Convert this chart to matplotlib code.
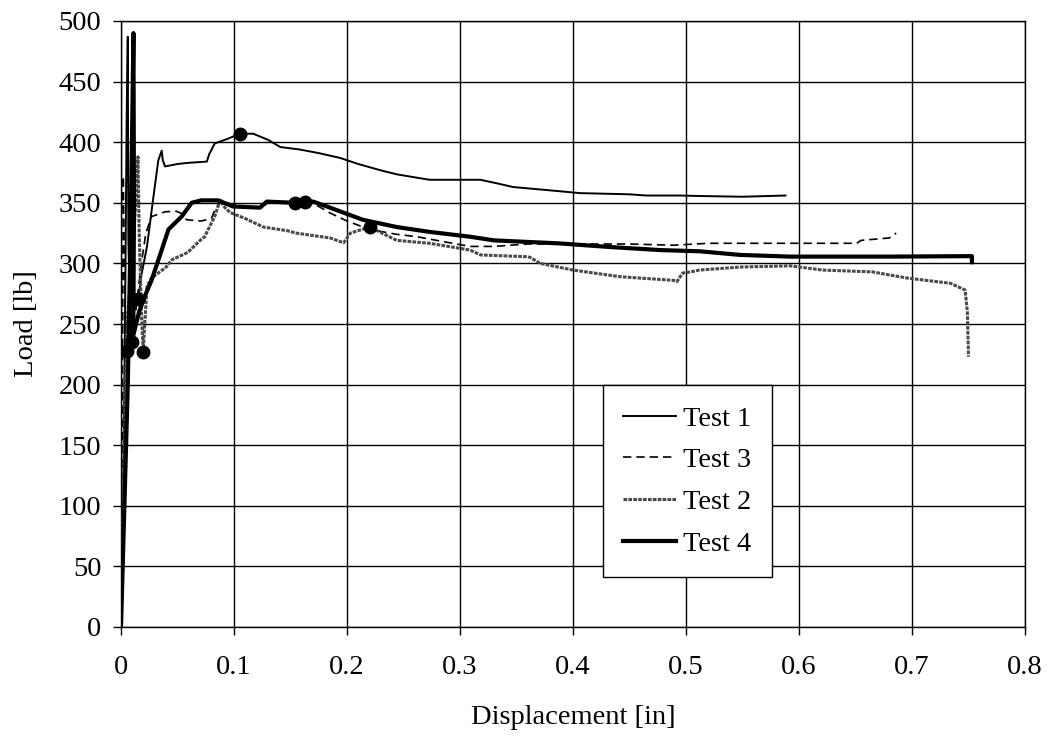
import matplotlib
matplotlib.use("Agg")
import matplotlib.pyplot as plt

plt.rcParams['font.family'] = ['Liberation Serif', 'DejaVu Serif']

# ---- data ----
t1_x = [0, 0.002, 0.003, 0.004, 0.005, 0.006, 0.0065, 0.008, 0.011, 0.0153, 0.018, 0.023, 0.028,
        0.033, 0.036, 0.037, 0.039, 0.05, 0.06, 0.076, 0.078, 0.083, 0.095, 0.105, 0.117, 0.13,
        0.141, 0.158, 0.175, 0.194, 0.21, 0.229, 0.244, 0.26, 0.273, 0.3, 0.318, 0.333, 0.347,
        0.377, 0.406, 0.45, 0.465, 0.495, 0.512, 0.55, 0.588]
t1_y = [0, 100, 200, 300, 420, 487, 320, 260, 262, 271, 290, 314, 350,
        385, 393, 385, 380, 382, 383, 384, 390, 399, 403, 407, 407, 402,
        396, 394, 391, 387, 382, 377, 373.5, 371, 369, 369, 369, 366, 363,
        360.5, 358, 357, 356, 356, 355.6, 355, 356]
t1_mx = [0.0153, 0.105]
t1_my = [271, 407]

t3_x = [0, 0.001, 0.0015, 0.002, 0.003, 0.004, 0.005, 0.008, 0.013, 0.018, 0.022, 0.027, 0.039,
        0.049, 0.054, 0.058, 0.071, 0.08, 0.083, 0.089, 0.1, 0.125, 0.13, 0.14, 0.163, 0.175,
        0.185, 0.2, 0.22, 0.244, 0.262, 0.285, 0.309, 0.33, 0.36, 0.4, 0.45, 0.489, 0.52, 0.6,
        0.651, 0.655, 0.68, 0.686]
t3_y = [0, 150, 250, 372, 300, 250, 228, 240, 260, 300, 325, 338.6, 342.6,
        343, 341, 336, 335, 337, 344, 352, 348, 346, 350, 350, 351, 347,
        341.6, 335, 328, 324, 322, 318, 314, 314, 316, 316, 316, 315, 316.6, 316.6,
        316.6, 319, 321, 325]
t3_mx = [0.005, 0.163]
t3_my = [228, 351]

t2_x = [0, 0.002, 0.004, 0.006, 0.01, 0.013, 0.015, 0.016, 0.018, 0.0197, 0.021, 0.023, 0.027,
        0.0315, 0.04, 0.045, 0.052, 0.059, 0.07, 0.074, 0.083, 0.0876, 0.092, 0.0965, 0.11,
        0.126, 0.147, 0.155, 0.185, 0.197, 0.203, 0.22, 0.244, 0.273, 0.309, 0.318, 0.359,
        0.362, 0.371, 0.4, 0.442, 0.489, 0.492, 0.497, 0.504, 0.512, 0.548, 0.592, 0.621,
        0.665, 0.695, 0.734, 0.747, 0.749, 0.75]
t2_y = [0, 100, 200, 260, 300, 350, 388, 330, 260, 227, 250, 281, 288,
        291, 297, 303, 306, 309, 319, 322, 339, 352, 346, 342, 337,
        330, 327, 325, 321, 317, 325, 330, 319, 316.6, 311, 307, 305.5,
        305, 300, 294.5, 289, 286, 285, 292, 293, 294.5, 297, 298, 294.5,
        293, 288, 283.6, 278, 260, 223]
t2_mx = [0.0197, 0.22]
t2_my = [227, 330]

t4_x = [0, 0.003, 0.006, 0.008, 0.01, 0.011, 0.0115, 0.011, 0.0094, 0.012, 0.016, 0.022, 0.027,
        0.036, 0.042, 0.054, 0.0625, 0.071, 0.086, 0.099, 0.123, 0.129, 0.154, 0.17, 0.185,
        0.214, 0.244, 0.273, 0.309, 0.33, 0.388, 0.433, 0.477, 0.512, 0.548, 0.592, 0.68,
        0.753, 0.753]
t4_y = [0, 100, 200, 300, 420, 490, 350, 260, 235, 245, 260, 275, 286,
        311, 328, 339, 350, 352, 352, 347, 346, 351, 350, 351, 346,
        336, 330, 326, 322, 319, 316.5, 313.5, 311, 310, 307, 305.6, 305.6,
        306, 301]
t4_mx = [0.0094, 0.154]
t4_my = [235, 350]

x_ticks = [0, 0.1, 0.2, 0.3, 0.4, 0.5, 0.6, 0.7, 0.8]
x_labels = ['0', '0.1', '0.2', '0.3', '0.4', '0.5', '0.6', '0.7', '0.8']
y_ticks = list(range(0, 501, 50))

FS = 20.5

# ---- figure ----
fig = plt.figure(figsize=(10.52, 7.42), dpi=100)
ax = fig.add_axes([121 / 1052, 1 - 627 / 742, 904 / 1052, 606 / 742])

ax.plot(t1_x, t1_y, color='black', lw=1.4, label='Test 1', zorder=3)
ax.plot(t3_x, t3_y, color='black', lw=1.2, ls=(0, (5, 3)), label='Test 3', zorder=3)
ax.plot(t2_x, t2_y, color='#4a4a4a', lw=2.2, ls=(0, (1.2, 0.4)), label='Test 2', zorder=3)
ax.plot(t4_x, t4_y, color='black', lw=3.0, label='Test 4', zorder=3)

for mx, my in [(t1_mx, t1_my), (t3_mx, t3_my), (t2_mx, t2_my), (t4_mx, t4_my)]:
    ax.plot(mx, my, 'o', color='black', ms=9, zorder=4)

ax.set_xlim(0, 0.8)
ax.set_ylim(0, 500)
ax.set_xticks(x_ticks)
ax.set_xticklabels(x_labels)
ax.set_yticks(y_ticks)
ax.grid(True, color='black', lw=1.0)
ax.set_axisbelow(True)
for s in ax.spines.values():
    s.set_color('black')
    s.set_linewidth(1.0)
ax.tick_params(axis='both', direction='out', length=6, width=1.0, labelsize=FS, color='black')
ax.tick_params(axis='x', pad=14)
ax.tick_params(axis='y', pad=8)

ax.set_xlabel('Displacement [in]', fontsize=FS, labelpad=18)
ax.set_ylabel('Load [lb]', fontsize=FS, labelpad=14)

leg = ax.legend(loc='lower left', bbox_to_anchor=(0.533, 0.0825), fontsize=FS,
                frameon=True, fancybox=False, edgecolor='black', framealpha=1,
                handlelength=1.85, handletextpad=0.25, labelspacing=0.55, borderpad=0.72,
                borderaxespad=0)
leg.get_frame().set_linewidth(1.0)

fig.savefig('out.png', dpi=100)
